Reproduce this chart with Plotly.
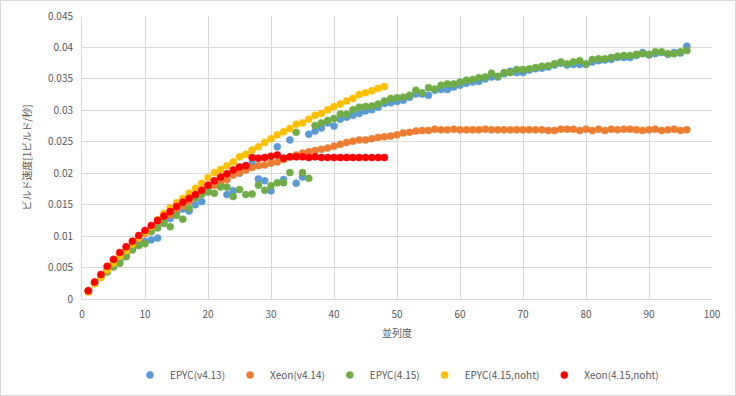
import plotly.graph_objects as go

x96 = list(range(1, 97))
x48 = list(range(1, 49))

epyc_v413 = [0.0013, 0.0025, 0.0036, 0.0045, 0.0053, 0.0061, 0.0070, 0.0080, 0.0087, 0.0092,
             0.0094, 0.0097, 0.0120, 0.0128, 0.0137, 0.0143, 0.0140, 0.0150, 0.0155, 0.0178,
             0.0184, 0.0190, 0.0166, 0.0172, 0.0200, 0.0212, 0.0216, 0.0191, 0.0188, 0.0172,
             0.0242, 0.0190, 0.0253, 0.0184, 0.0194, 0.0262, 0.0267, 0.0272, 0.0280, 0.0275,
             0.0286, 0.0289, 0.0292, 0.0295, 0.0299, 0.0301, 0.0305, 0.0311, 0.0312, 0.0314,
             0.0316, 0.0321, 0.0326, 0.0326, 0.0324, 0.0332, 0.0333, 0.0333, 0.0337, 0.0340,
             0.0343, 0.0345, 0.0346, 0.0350, 0.0353, 0.0353, 0.0358, 0.0362, 0.0360, 0.0360,
             0.0364, 0.0366, 0.0367, 0.0369, 0.0372, 0.0375, 0.0372, 0.0373, 0.0373, 0.0373,
             0.0377, 0.0379, 0.0380, 0.0381, 0.0384, 0.0384, 0.0384, 0.0387, 0.0392, 0.0388,
             0.0390, 0.0392, 0.0389, 0.0392, 0.0391, 0.0402]

xeon_v414 = [0.0013, 0.0026, 0.0037, 0.0048, 0.0059, 0.0069, 0.0078, 0.0087, 0.0096, 0.0104,
             0.0112, 0.0120, 0.0127, 0.0134, 0.0141, 0.0148, 0.0155, 0.0162, 0.0168, 0.0175,
             0.0181, 0.0184, 0.0190, 0.0197, 0.0201, 0.0205, 0.0209, 0.0212, 0.0213, 0.0216,
             0.0218, 0.0222, 0.0226, 0.0229, 0.0232, 0.0234, 0.0236, 0.0238, 0.0240, 0.0243,
             0.0246, 0.0249, 0.0251, 0.0253, 0.0253, 0.0255, 0.0257, 0.0258, 0.0259, 0.0261,
             0.0264, 0.0265, 0.0267, 0.0268, 0.0268, 0.0270, 0.0269, 0.0269, 0.0270, 0.0269,
             0.0269, 0.0269, 0.0269, 0.0270, 0.0269, 0.0269, 0.0269, 0.0269, 0.0269, 0.0269,
             0.0269, 0.0269, 0.0269, 0.0268, 0.0268, 0.0270, 0.0270, 0.0270, 0.0268, 0.0270,
             0.0268, 0.0270, 0.0268, 0.0270, 0.0269, 0.0270, 0.0270, 0.0269, 0.0268, 0.0269,
             0.0270, 0.0268, 0.0269, 0.0270, 0.0268, 0.0269]

epyc_415 = [0.0013, 0.0025, 0.0035, 0.0043, 0.0051, 0.0057, 0.0067, 0.0078, 0.0085, 0.0088,
            0.0107, 0.0113, 0.0121, 0.0115, 0.0133, 0.0127, 0.0144, 0.0161, 0.0166, 0.0170,
            0.0168, 0.0178, 0.0178, 0.0163, 0.0174, 0.0166, 0.0167, 0.0181, 0.0173, 0.0180,
            0.0185, 0.0185, 0.0201, 0.0265, 0.0201, 0.0192, 0.0276, 0.0280, 0.0284, 0.0287,
            0.0294, 0.0294, 0.0301, 0.0305, 0.0306, 0.0307, 0.0310, 0.0315, 0.0319, 0.0320,
            0.0321, 0.0324, 0.0332, 0.0328, 0.0336, 0.0334, 0.0340, 0.0342, 0.0342, 0.0345,
            0.0348, 0.0349, 0.0352, 0.0353, 0.0359, 0.0354, 0.0360, 0.0360, 0.0365, 0.0365,
            0.0366, 0.0368, 0.0370, 0.0371, 0.0374, 0.0377, 0.0374, 0.0377, 0.0379, 0.0374,
            0.0381, 0.0382, 0.0382, 0.0384, 0.0386, 0.0387, 0.0387, 0.0389, 0.0390, 0.0389,
            0.0393, 0.0393, 0.0390, 0.0390, 0.0393, 0.0395]

epyc_415_noht = [0.0011, 0.0024, 0.0034, 0.0046, 0.0057, 0.0068, 0.0077, 0.0087, 0.0097, 0.0106,
                 0.0115, 0.0126, 0.0136, 0.0145, 0.0153, 0.0160, 0.0168, 0.0176, 0.0184, 0.0193,
                 0.0201, 0.0206, 0.0212, 0.0218, 0.0226, 0.0230, 0.0237, 0.0242, 0.0249, 0.0255,
                 0.0261, 0.0266, 0.0271, 0.0278, 0.0280, 0.0286, 0.0292, 0.0295, 0.0301, 0.0306,
                 0.0310, 0.0315, 0.0319, 0.0325, 0.0328, 0.0331, 0.0335, 0.0338]

xeon_415_noht = [0.0013, 0.0027, 0.0039, 0.0052, 0.0063, 0.0074, 0.0083, 0.0092, 0.0101, 0.0109,
                 0.0117, 0.0125, 0.0132, 0.0139, 0.0147, 0.0154, 0.0160, 0.0166, 0.0173, 0.0181,
                 0.0188, 0.0194, 0.0199, 0.0205, 0.0210, 0.0212, 0.0225, 0.0224, 0.0225, 0.0227,
                 0.0229, 0.0224, 0.0226, 0.0226, 0.0226, 0.0225, 0.0226, 0.0225, 0.0225, 0.0225,
                 0.0225, 0.0225, 0.0225, 0.0225, 0.0225, 0.0225, 0.0225, 0.0225]

series_names = ["EPYC(v4.13)", "Xeon(v4.14)", "EPYC(4.15)", "EPYC(4.15,noht)", "Xeon(4.15,noht)"]
colors = ["#5B9BD5", "#ED7D31", "#70AD47", "#FFC000", "#FF0000"]

y_tickvals = [0, 0.005, 0.01, 0.015, 0.02, 0.025, 0.03, 0.035, 0.04, 0.045]
y_ticktext = ["0", "0.005", "0.01", "0.015", "0.02", "0.025", "0.03", "0.035", "0.04", "0.045"]
x_tickvals = [0, 10, 20, 30, 40, 50, 60, 70, 80, 90, 100]

xs = [x96, x96, x96, x48, x48]
ys = [epyc_v413, xeon_v414, epyc_415, epyc_415_noht, xeon_415_noht]

fig = go.Figure()
for name, c, xv, yv in zip(series_names, colors, xs, ys):
    fig.add_trace(go.Scatter(
        x=xv, y=yv, mode="markers", name=name,
        marker=dict(color=c, size=7, line=dict(color=c, width=0.6)),
    ))

font_family = "Noto Sans CJK JP, Noto Sans, sans-serif"
fig.update_layout(
    width=736, height=396,
    margin=dict(l=82, r=24, t=16, b=97, autoexpand=False),
    paper_bgcolor="white", plot_bgcolor="white",
    font=dict(family=font_family, size=10, color="#595959"),
    showlegend=True,
    legend=dict(orientation="h", x=0.5, xanchor="center", yref="container",
                y=1 - 375 / 396, yanchor="middle",
                font=dict(size=10, color="#595959"), itemwidth=30, tracegroupgap=0),
    xaxis=dict(range=[0, 100], tickvals=x_tickvals, showgrid=True, gridcolor="#D9D9D9",
               gridwidth=1, zeroline=False, showline=True, linecolor="#D9D9D9",
               automargin=False,
               ticks="outside", ticklen=6, tickcolor="rgba(0,0,0,0)",
               tickfont=dict(size=10, color="#595959"),
               title=dict(text="並列度", font=dict(size=10, color="#595959"), standoff=9)),
    yaxis=dict(range=[0, 0.045], tickvals=y_tickvals, ticktext=y_ticktext, showgrid=True,
               gridcolor="#D9D9D9", gridwidth=1, zeroline=False, showline=True,
               linecolor="#D9D9D9", automargin=False,
               ticks="outside", ticklen=6, tickcolor="rgba(0,0,0,0)",
               tickfont=dict(size=10, color="#595959"),
               title=dict(text="ビルド速度[1ビルド/秒]", font=dict(size=10, color="#595959"),
                          standoff=14)),
)

# thin grey chart border
fig.add_shape(type="rect", xref="paper", yref="paper",
              x0=(0.5 - 82) / 630, x1=(735.5 - 82) / 630,
              y0=(299 - 395.5) / 283, y1=(299 - 0.5) / 283,
              line=dict(color="#D9D9D9", width=1), fillcolor="rgba(0,0,0,0)", layer="below")

fig.write_html("out.html", config={"displayModeBar": False},
               post_script="document.body.style.margin='0';document.body.style.overflow='hidden';")
